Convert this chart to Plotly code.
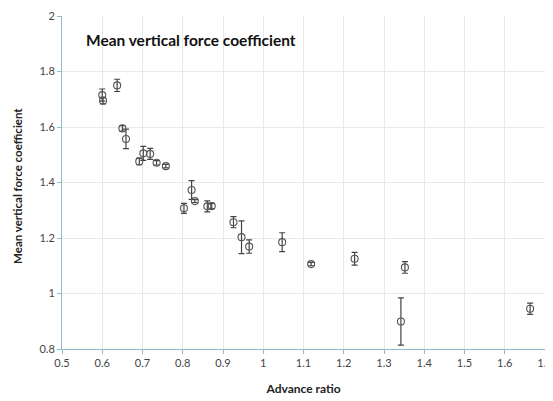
import plotly.graph_objects as go

advance_ratio = [0.600, 0.602, 0.637, 0.650, 0.659, 0.692, 0.702, 0.719, 0.735, 0.758,
                 0.803, 0.822, 0.830, 0.861, 0.872, 0.926, 0.946, 0.965, 1.047, 1.119,
                 1.227, 1.342, 1.352, 1.663]
force_coef = [1.715, 1.695, 1.750, 1.595, 1.557, 1.476, 1.505, 1.503, 1.471, 1.459,
              1.307, 1.373, 1.333, 1.314, 1.315, 1.257, 1.203, 1.169, 1.185, 1.106,
              1.125, 0.899, 1.094, 0.945]
error = [0.022, 0.012, 0.022, 0.010, 0.035, 0.012, 0.025, 0.020, 0.008, 0.006,
         0.018, 0.034, 0.005, 0.020, 0.010, 0.020, 0.059, 0.024, 0.034, 0.006,
         0.023, 0.085, 0.021, 0.020]

x_ticks = [0.5, 0.6, 0.7, 0.8, 0.9, 1.0, 1.1, 1.2, 1.3, 1.4, 1.5, 1.6, 1.7]
x_labels = ["0.5", "0.6", "0.7", "0.8", "0.9", "1", "1.1", "1.2", "1.3", "1.4", "1.5", "1.6", "1.7"]
y_ticks = [0.8, 1.0, 1.2, 1.4, 1.6, 1.8, 2.0]
y_labels = ["0.8", "1", "1.2", "1.4", "1.6", "1.8", "2"]

font_family = "Lato, 'Open Sans', sans-serif"

fig = go.Figure()
fig.add_trace(go.Scatter(
    x=advance_ratio, y=force_coef, mode="markers",
    marker=dict(symbol="circle-open", size=7, color="#555555", line=dict(width=1.1)),
    error_y=dict(type="data", array=error, visible=True, color="#444444",
                 thickness=1.2, width=3),
    showlegend=False,
))

fig.update_layout(
    width=545, height=393,
    margin=dict(l=54, r=8, t=8, b=52),
    paper_bgcolor="white", plot_bgcolor="white",
    font=dict(family=font_family, size=11, color="#444444"),
    xaxis=dict(range=[0.5, 1.7], tickvals=x_ticks, ticktext=x_labels,
               automargin=False,
               showgrid=True, gridcolor="#e6eaee", gridwidth=1,
               showline=True, linecolor="#8fbccb", linewidth=1,
               ticks="outside", ticklen=4, tickcolor="#8fbccb",
               zeroline=False,
               title=dict(text="<b>Advance ratio</b>", font=dict(size=12, color="#222222"), standoff=16)),
    yaxis=dict(range=[0.8, 2.0], tickvals=y_ticks, ticktext=y_labels,
               automargin=False,
               showgrid=True, gridcolor="#e6eaee", gridwidth=1,
               showline=True, linecolor="#8fbccb", linewidth=1,
               ticks="outside", ticklen=4, tickcolor="#8fbccb",
               zeroline=False),
    annotations=[
        dict(text="<b>Mean vertical force coefficient</b>",
             xref="paper", yref="paper", x=0.045, y=0.927,
             xanchor="left", yanchor="middle", showarrow=False,
             font=dict(size=15.5, color="#111111")),
        dict(text="<b>Mean vertical force coefficient</b>",
             xref="paper", yref="paper", x=-0.091, y=0.49,
             xanchor="center", yanchor="middle", textangle=-90, showarrow=False,
             font=dict(size=11.5, color="#222222")),
    ],
)

fig.write_html("out.html")
